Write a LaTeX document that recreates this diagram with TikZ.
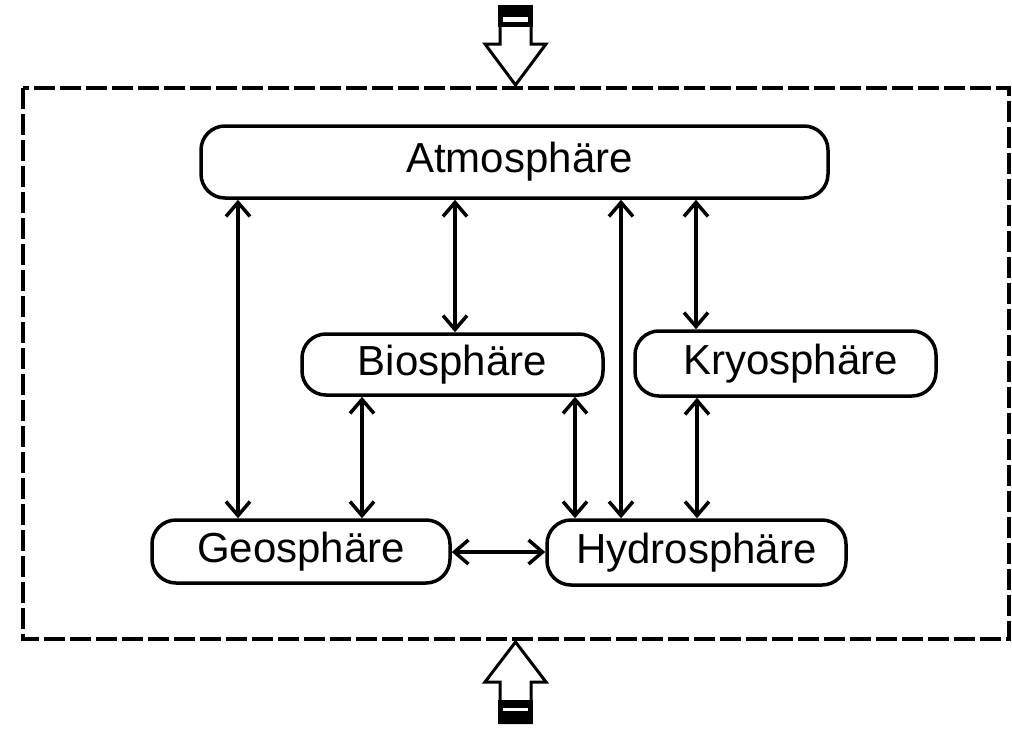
\documentclass[tikz,border=0pt]{standalone}
\usepackage{fontspec}
\setmainfont{Liberation Sans}
\usetikzlibrary{arrows.meta}
\begin{document}
\begin{tikzpicture}[x=1pt,y=-1pt,
  sphere/.style={draw, line width=3.5pt, rounded corners=24pt, fill=white,
    inner sep=0pt, font=\fontsize{42}{50}\selectfont},
  link/.style={line width=3.5pt, {Straight Barb[length=14pt,width=24pt]}-{Straight Barb[length=14pt,width=24pt]}},
  bigarrow/.style={draw, fill=white, line width=3pt, miter limit=10}
]
\useasboundingbox (0,0) rectangle (1012,731);
% system boundary
\draw[line width=4pt, dash pattern=on 21pt off 5pt] (23,88) rectangle (1009,639);

% nodes
\node[sphere, minimum width=627pt, minimum height=72pt] (atm) at (514.5,162) {\raisebox{-2pt}{\hspace*{10pt}Atmosphäre}};
\node[sphere, minimum width=301pt, minimum height=61pt] (bio) at (452.5,364.5) {Biosphäre};
\node[sphere, minimum width=301pt, minimum height=65pt] (kryo) at (785.5,363.5) {\hspace*{10pt}Kryosphäre};
\node[sphere, minimum width=298pt, minimum height=63pt] (geo) at (301,551.5) {Geosphäre};
\node[sphere, minimum width=299pt, minimum height=65pt] (hydro) at (696.5,552.5) {Hydrosphäre};

% connectors
\draw[link] (238,0 |- atm.south) -- (238,0 |- geo.north);
\draw[link] (455,0 |- atm.south) -- (455,0 |- bio.north);
\draw[link] (621,0 |- atm.south) -- (621,0 |- hydro.north);
\draw[link] (696,0 |- atm.south) -- (696,0 |- kryo.north);
\draw[link] (362,0 |- bio.south) -- (362,0 |- geo.north);
\draw[link] (575,0 |- bio.south) -- (575,0 |- hydro.north);
\draw[link] (697,0 |- kryo.south) -- (697,0 |- hydro.north);
\draw[link] (geo.east |- 0,552) -- (hydro.west |- 0,552);

% incoming arrow (top)
\draw[bigarrow] (500,6.5) -- (531,6.5) -- (531,44) -- (546,44) -- (515.5,85) -- (485,44) -- (500,44) -- cycle;
\fill[black] (498,5) rectangle (533,27);
\fill[white] (503,17) rectangle (528,22);

% incoming arrow (bottom)
\draw[bigarrow] (500,722.5) -- (531,722.5) -- (531,682) -- (546,682) -- (515.5,642) -- (485,682) -- (500,682) -- cycle;
\fill[black] (498,700) rectangle (533,724);
\fill[white] (503,708) rectangle (528,711);
\end{tikzpicture}
\end{document}
